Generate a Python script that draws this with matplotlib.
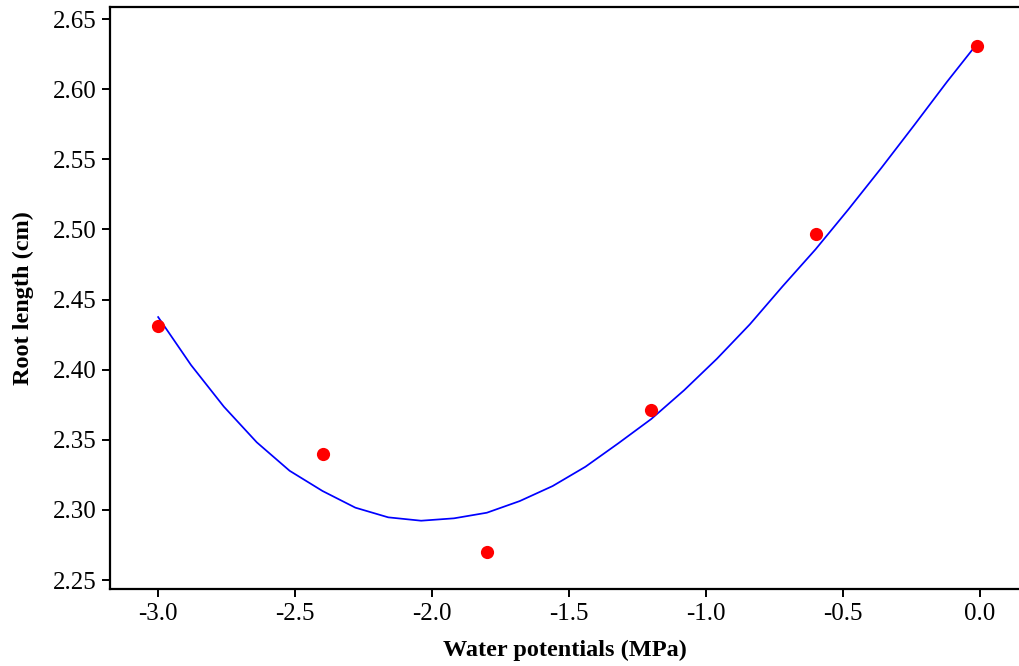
import numpy as np
import matplotlib
matplotlib.use("Agg")
import matplotlib.pyplot as plt

plt.rcParams['font.family'] = ['Liberation Serif', 'DejaVu Serif']

# measured points
water = [-3.0, -2.4, -1.8, -1.2, -0.6, -0.01]
root = [2.431, 2.340, 2.270, 2.371, 2.497, 2.631]

# fitted curve
fit_x = [-3.0, -2.88, -2.76, -2.64, -2.52, -2.40, -2.28, -2.16, -2.04, -1.92,
         -1.80, -1.68, -1.56, -1.44, -1.32, -1.20, -1.08, -0.96, -0.84, -0.72,
         -0.60, -0.48, -0.36, -0.24, -0.12, -0.02]
fit_y = [2.4375, 2.4033, 2.3736, 2.3482, 2.3279, 2.3135, 2.3016, 2.2947, 2.2923, 2.2940,
         2.2980, 2.3063, 2.3170, 2.3308, 2.3475, 2.3648, 2.3853, 2.4078, 2.4323, 2.4595,
         2.4858, 2.5143, 2.5438, 2.5743, 2.6053, 2.630]

fig = plt.figure(figsize=(10.19, 6.66), dpi=100)
ax = fig.add_axes([0.108, 0.1156, 0.892, 0.8739])

ax.plot(fit_x, fit_y, color="#0000FF", linewidth=1.25, zorder=2)
ax.plot(water, root, 'o', color="#FF0000", markersize=9.5, markeredgewidth=0, zorder=3)

ax.set_xlim(-3.1756, 0.1427)
ax.set_ylim(2.2436, 2.6586)
ax.set_xticks([-3.0, -2.5, -2.0, -1.5, -1.0, -0.5, 0.0])
ax.set_yticks([2.25, 2.30, 2.35, 2.40, 2.45, 2.50, 2.55, 2.60, 2.65])
ax.xaxis.set_major_formatter(matplotlib.ticker.FormatStrFormatter('%.1f'))
ax.yaxis.set_major_formatter(matplotlib.ticker.FormatStrFormatter('%.2f'))

ax.spines['right'].set_visible(False)
for s in ['left', 'bottom', 'top']:
    ax.spines[s].set_linewidth(1.6)
ax.tick_params(direction='out', length=6, width=1.4, labelsize=18, pad=4)
ax.tick_params(top=False, right=False)

ax.set_xlabel("Water potentials (MPa)", fontsize=17.5, fontweight='bold', labelpad=11)
ax.set_ylabel("Root length (cm)", fontsize=17.5, fontweight='bold', labelpad=13)

fig.savefig("out.png", dpi=100)
